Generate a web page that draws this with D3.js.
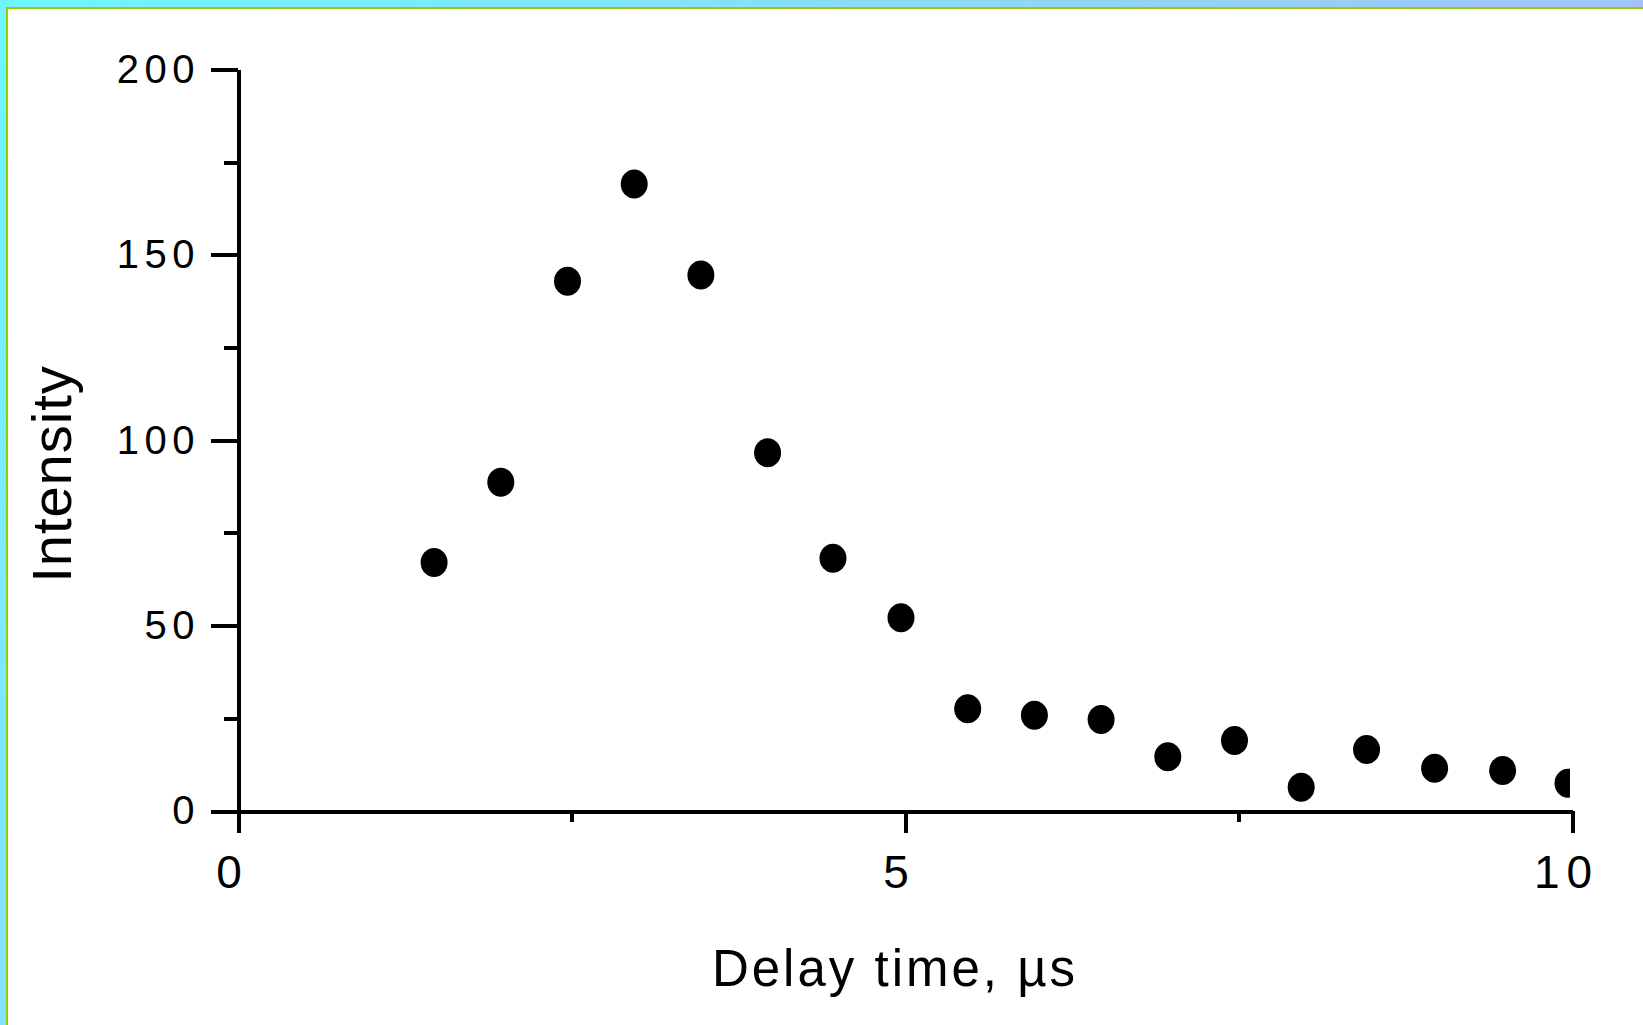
<!DOCTYPE html>
<html>
<head>
<meta charset="utf-8">
<script src="https://cdn.jsdelivr.net/npm/d3@7"></script>
<style>
  html, body { margin: 0; padding: 0; overflow: hidden; }
  text { font-family: "Liberation Sans", Arial, sans-serif; fill: #000; }
</style>
</head>
<body>
<script>
//Width and height
var w = 1643;
var h = 1025;

//Data
var delayTimes = [1.47, 1.97, 2.47, 2.97, 3.47, 3.97, 4.46, 4.97, 5.47, 5.97, 6.47, 6.97, 7.47, 7.97, 8.46, 8.97, 9.48, 9.97];
var intensities = [67.0, 88.7, 142.9, 169.1, 144.6, 96.6, 68.2, 52.1, 27.6, 25.8, 24.7, 14.6, 19.0, 6.4, 16.6, 11.5, 10.9, 7.5];
var xMajorTicks = [0, 5, 10];
var xMinorTicks = [2.5, 7.5];
var yMajorTicks = [0, 50, 100, 150, 200];
var yMinorTicks = [25, 75, 125, 175];
var xTitle = "Delay time, µs";
var yTitle = "Intensity";

var dataset = delayTimes.map(function(d, i){
    return { time: d, value: intensities[i] };
});

var svg = d3.select("body")
            .append("svg")
            .attr("width", w)
            .attr("height", h);

//Frame: gradient band with green edge on top and left
var grad = svg.append("defs").append("linearGradient")
            .attr("id", "band")
            .attr("gradientUnits", "userSpaceOnUse")
            .attr("x1", 0).attr("y1", 0)
            .attr("x2", w).attr("y2", h);
grad.append("stop").attr("offset", "0%").attr("stop-color", "#6ef6ff");
grad.append("stop").attr("offset", "100%").attr("stop-color", "#b8b0f4");

svg.append("rect")
    .attr("width", w).attr("height", h)
    .attr("fill", "url(#band)");
svg.append("rect")
    .attr("x", 6).attr("y", 7)
    .attr("width", w).attr("height", h)
    .attr("fill", "#99cc00");
svg.append("rect")
    .attr("x", 8).attr("y", 9)
    .attr("width", w).attr("height", h)
    .attr("fill", "#ffffff");

//Scales
var xScale = d3.scaleLinear().domain([0, 10]).range([238, 1572]);
var yScale = d3.scaleLinear().domain([0, 200]).range([811, 69.5]);

//Points, clipped at the right end of the axis
svg.append("clipPath").attr("id", "plot")
    .append("rect")
    .attr("x", 238).attr("y", 0)
    .attr("width", 1570 - 238).attr("height", 811);

svg.append("g")
    .attr("clip-path", "url(#plot)")
    .selectAll("ellipse")
    .data(dataset)
    .enter()
    .append("ellipse")
    .attr("cx", function(d) { return xScale(d.time); })
    .attr("cy", function(d) { return yScale(d.value); })
    .attr("rx", 13.5)
    .attr("ry", 14.5)
    .attr("fill", "#000");

//Axes
function styleAxis(g){
    g.selectAll("path, line")
        .attr("stroke", "#000")
        .attr("stroke-width", 4)
        .attr("shape-rendering", "crispEdges");
}

svg.append("g")
    .attr("transform", "translate(238,0)")
    .call(d3.axisLeft(yScale).tickValues(yMinorTicks).tickSize(14).tickSizeOuter(0).tickFormat(""))
    .call(styleAxis);

var yAxis = svg.append("g")
    .attr("transform", "translate(238,0)")
    .call(d3.axisLeft(yScale).tickValues(yMajorTicks).tickSize(27).tickSizeOuter(0).tickPadding(11))
    .call(styleAxis);
yAxis.selectAll("text")
    .style("font-size", "40px")
    .style("letter-spacing", "5.5px")
    .attr("font-family", null);

svg.append("g")
    .attr("transform", "translate(0,811)")
    .call(d3.axisBottom(xScale).tickValues(xMinorTicks).tickSize(11).tickSizeOuter(0).tickFormat(""))
    .call(styleAxis);

var xAxis = svg.append("g")
    .attr("transform", "translate(0,811)")
    .call(d3.axisBottom(xScale).tickValues(xMajorTicks).tickSize(22).tickSizeOuter(0))
    .call(styleAxis);
xAxis.selectAll("text")
    .attr("y", 77)
    .attr("dy", 0)
    .attr("dx", -6)
    .style("font-size", "46px")
    .style("letter-spacing", "7px")
    .attr("font-family", null);

//Axis titles
svg.append("text")
    .attr("x", 895)
    .attr("y", 986)
    .attr("text-anchor", "middle")
    .style("font-size", "51px")
    .style("letter-spacing", "3px")
    .text(xTitle);

svg.append("text")
    .attr("transform", "translate(71,474) rotate(-90)")
    .attr("text-anchor", "middle")
    .style("font-size", "56px")
    .style("letter-spacing", "1px")
    .text(yTitle);
</script>
</body>
</html>
